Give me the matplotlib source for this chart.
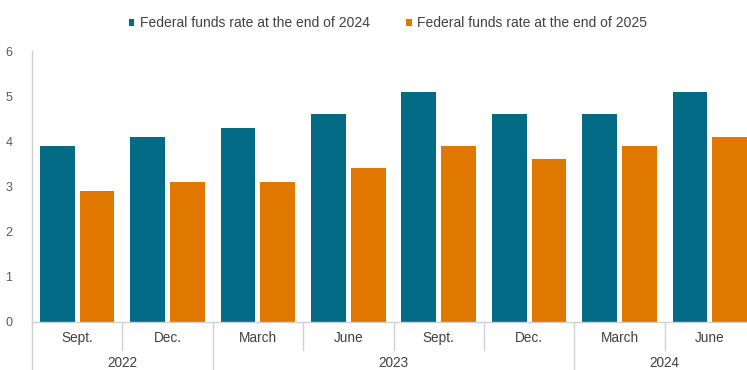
import matplotlib
matplotlib.use("Agg")
import matplotlib.pyplot as plt
import matplotlib.transforms as mtransforms
import numpy as np

plt.rcParams['font.family'] = ['Liberation Sans', 'DejaVu Sans']

categories = ["Sept.", "Dec.", "March", "June", "Sept.", "Dec.", "March", "June"]
years = ["2022", "2023", "2024"]
year_spans = [(0, 2), (2, 6), (6, 8)]
series_names = ["Federal funds rate at the end of 2024", "Federal funds rate at the end of 2025"]
rate_2024 = [3.9, 4.1, 4.3, 4.6, 5.1, 4.6, 4.6, 5.1]
rate_2025 = [2.9, 3.1, 3.1, 3.4, 3.9, 3.6, 3.9, 4.1]
colors = ["#046B87", "#E07800"]

W, H = 747, 370
fig = plt.figure(figsize=(W / 100, H / 100), dpi=100)
left_px, right_px, top_px, bot_px = 32, 755, 51, 322
ax = fig.add_axes([left_px / W, (H - bot_px) / H, (right_px - left_px) / W, (bot_px - top_px) / H])

x = np.arange(len(categories)) + 0.5
bw = 0.385
off = 0.22
ax.bar(x - off, rate_2024, bw, color=colors[0], label=series_names[0])
ax.bar(x + off, rate_2025, bw, color=colors[1], label=series_names[1])

ax.set_xlim(0, len(categories))
ax.set_ylim(0, 6)
ax.set_yticks(range(0, 7))
ax.tick_params(axis='y', length=0, labelsize=9, labelcolor="#595959", pad=14)
ax.set_xticks([])
for s in ["top", "right"]:
    ax.spines[s].set_visible(False)
for s in ["left", "bottom"]:
    ax.spines[s].set_color("#D0D0D0")
    ax.spines[s].set_linewidth(1.0)

trans = mtransforms.blended_transform_factory(ax.transData, ax.transAxes)
ax_h = bot_px - top_px
cat_line_end = -(350 - bot_px) / ax_h
year_line_end = -(H - bot_px) / ax_h
year_bounds = {s for s, e in year_spans} | {e for s, e in year_spans}
for b in range(0, len(categories) + 1):
    yend = year_line_end if b in year_bounds else cat_line_end
    ax.plot([b, b], [0, yend], color="#D0D0D0", lw=1.0, transform=trans, clip_on=False)

cat_y = -(338 - bot_px) / ax_h
for xi, c in zip(x, categories):
    ax.text(xi, cat_y, c, transform=trans, ha="center", va="center", fontsize=9.8, color="#404040")
year_y = -(363 - bot_px) / ax_h
for yr, (s, e) in zip(years, year_spans):
    ax.text((s + e) / 2, year_y, yr, transform=trans, ha="center", va="center", fontsize=9.8, color="#404040")

leg = fig.legend(loc="center", bbox_to_anchor=(388 / W, (H - 23) / H), ncol=2, frameon=False,
                 fontsize=10, handlelength=0.4, handleheight=0.4, handletextpad=0.4,
                 columnspacing=2.6, labelcolor="#404040")

fig.savefig("out.png", dpi=100)
